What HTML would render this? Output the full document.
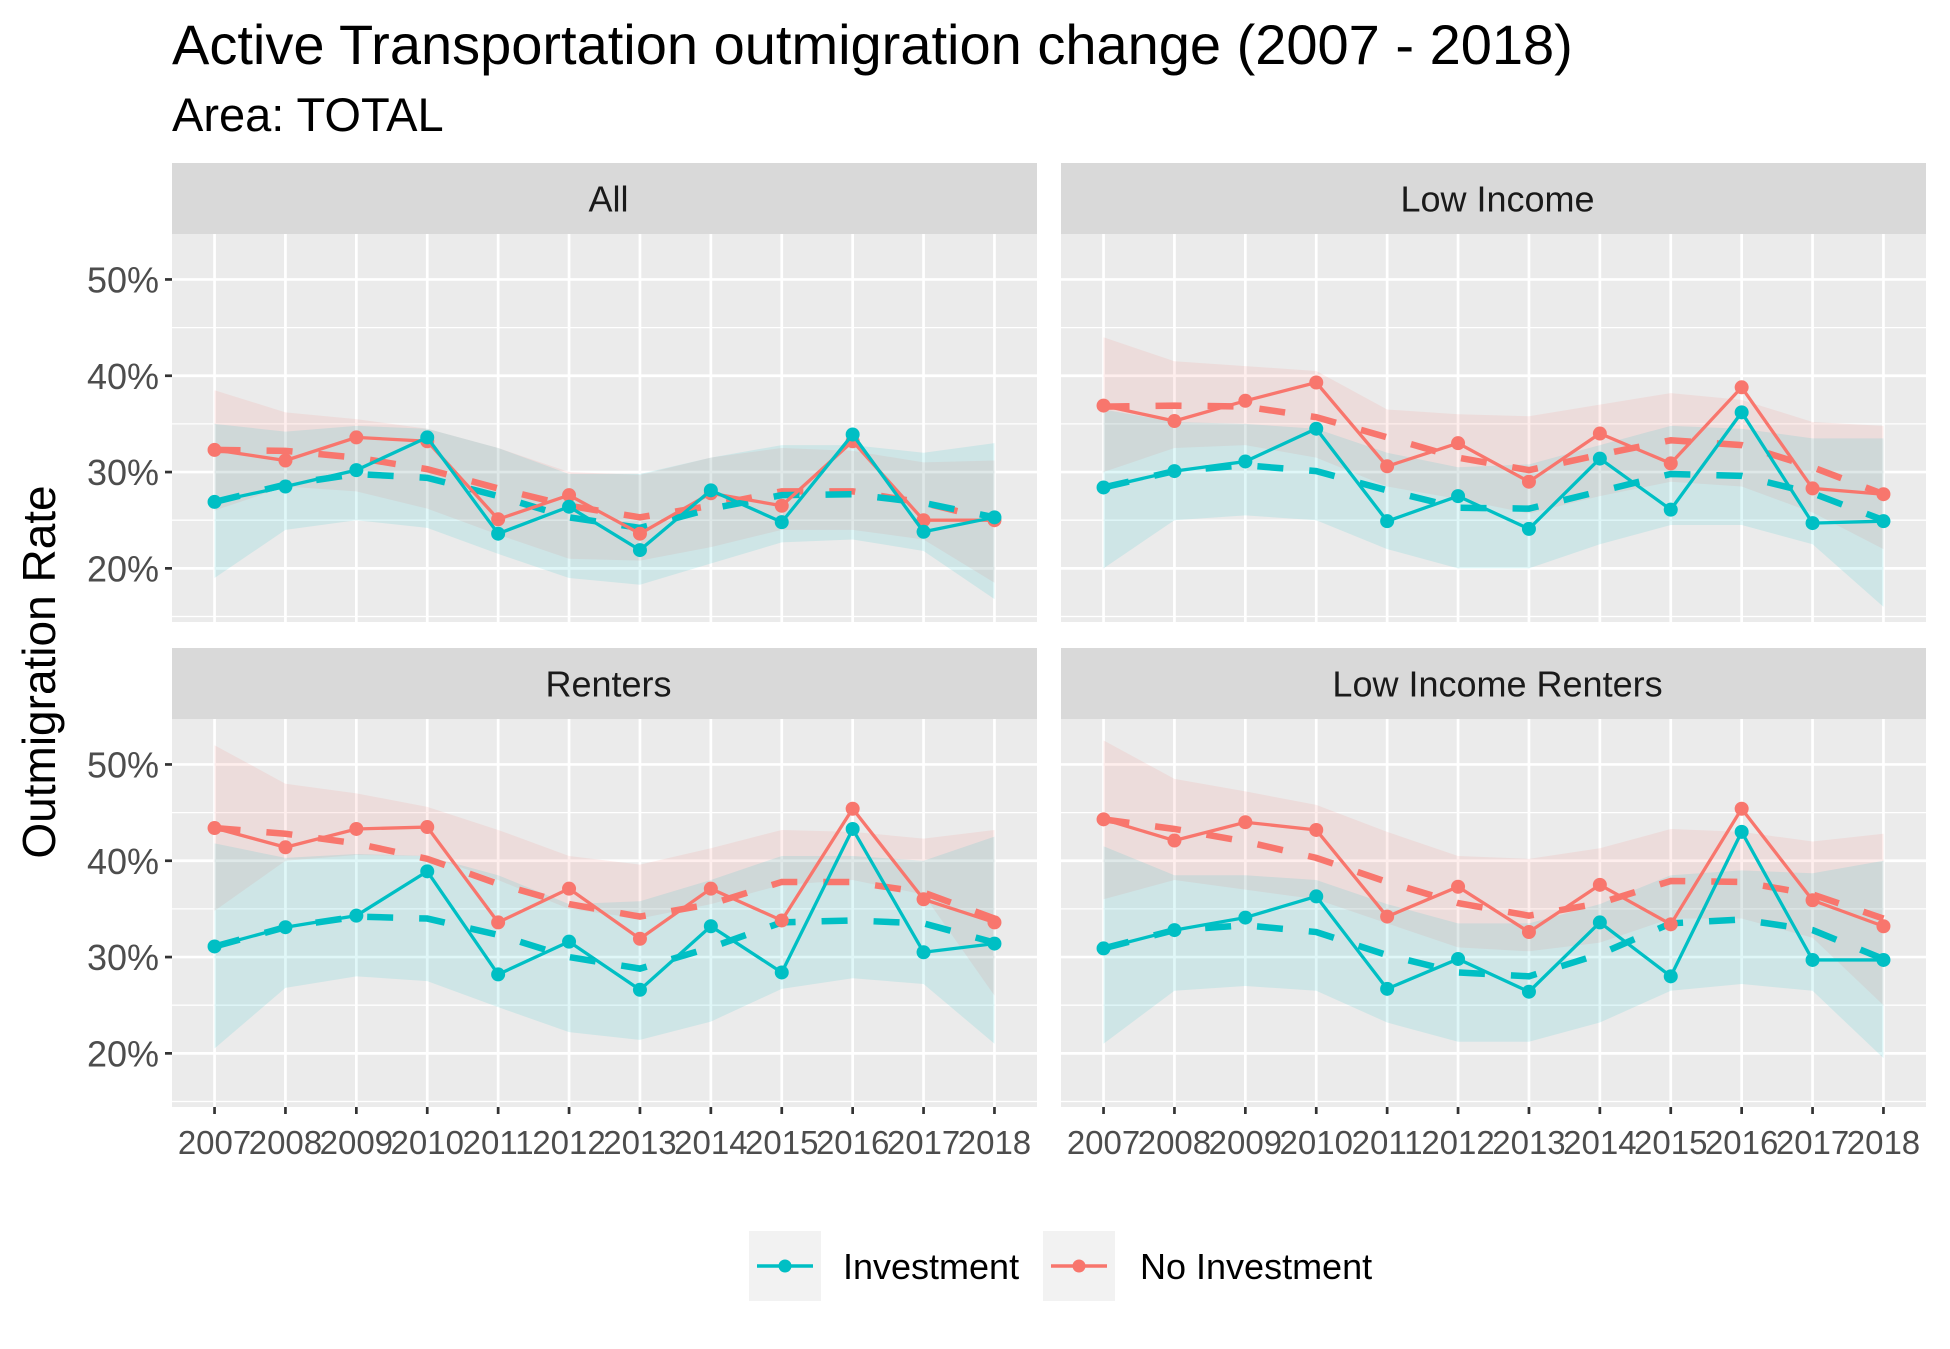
<!DOCTYPE html>
<html><head><meta charset="utf-8"><style>
html,body{margin:0;padding:0;background:#fff;}
svg{display:block;font-family:"Liberation Sans",Arial,sans-serif;}
</style></head><body>
<svg id="chart" width="1950" height="1349" viewBox="0 0 1950 1349" xmlns="http://www.w3.org/2000/svg">
<rect width="1950" height="1349" fill="#fff"/>
<text x="172" y="64" font-size="56" fill="#000">Active Transportation outmigration change (2007 - 2018)</text>
<text x="172" y="131" font-size="47" fill="#000">Area: TOTAL</text>
<text transform="translate(55,672) rotate(-90)" text-anchor="middle" font-size="46" fill="#000">Outmigration Rate</text>
<g id="panels"></g>
<g>
  <rect x="749" y="1231" width="72" height="70" fill="#F2F2F2"/>
  <line x1="757" y1="1266" x2="813" y2="1266" stroke="#00BFC4" stroke-width="3.5"/>
  <circle cx="785" cy="1266" r="6.5" fill="#00BFC4"/>
  <text x="843" y="1279" font-size="36" fill="#000">Investment</text>
  <rect x="1043" y="1231" width="72" height="70" fill="#F2F2F2"/>
  <line x1="1051" y1="1266" x2="1107" y2="1266" stroke="#F8766D" stroke-width="3.5"/>
  <circle cx="1079" cy="1266" r="6.5" fill="#F8766D"/>
  <text x="1140" y="1279" font-size="36" fill="#000">No Investment</text>
</g>
</svg>
<script>
const years = [2007,2008,2009,2010,2011,2012,2013,2014,2015,2016,2017,2018];
const yTicks = [20,30,40,50];
const yTickLabels = ["20%","30%","40%","50%"];
const panelNames = ["All","Low Income","Renters","Low Income Renters"];

// Observed values (%), per panel
const invAll = [26.9,28.5,30.2,33.6,23.6,26.4,21.9,28.1,24.8,33.9,23.8,25.3];
const noInvAll = [32.3,31.2,33.6,33.2,25.1,27.6,23.6,27.8,26.5,33.2,25.0,25.0];
const invLow = [28.4,30.1,31.1,34.5,24.9,27.5,24.1,31.4,26.1,36.2,24.7,24.9];
const noInvLow = [36.9,35.3,37.4,39.3,30.6,33.0,29.0,34.0,30.9,38.8,28.3,27.7];
const invRent = [31.1,33.1,34.3,38.9,28.2,31.6,26.6,33.2,28.4,43.3,30.5,31.4];
const noInvRent = [43.4,41.4,43.3,43.5,33.6,37.1,31.9,37.1,33.8,45.4,36.0,33.6];
const invLowRent = [30.9,32.8,34.1,36.3,26.7,29.8,26.4,33.6,28.0,43.0,29.7,29.7];
const noInvLowRent = [44.3,42.1,44.0,43.2,34.2,37.3,32.6,37.5,33.4,45.4,35.9,33.2];

// Smoothed trend (dashed)
const invAllFit = [26.9,28.7,29.8,29.4,27.5,25.3,24.2,26.2,27.6,27.7,26.8,25.3];
const noInvAllFit = [32.3,32.2,31.5,30.3,28.3,26.5,25.3,26.5,28.0,28.0,26.8,25.0];
const invLowFit = [28.4,30.1,30.7,30.1,28.1,26.3,26.2,28.0,29.8,29.6,27.8,25.0];
const noInvLowFit = [36.8,36.9,36.8,35.7,33.6,31.5,30.2,31.8,33.3,32.8,30.5,27.7];
const invRentFit = [31.1,33.1,34.2,34.0,32.3,30.0,28.8,31.0,33.6,33.8,33.5,31.5];
const noInvRentFit = [43.4,42.8,41.8,40.2,37.6,35.5,34.2,35.5,37.8,37.8,36.7,34.0];
const invLowRentFit = [30.9,32.8,33.3,32.6,30.2,28.4,28.0,30.3,33.5,33.9,32.8,29.8];
const noInvLowRentFit = [44.3,43.3,42.0,40.3,37.8,35.6,34.3,35.6,37.9,37.8,36.5,34.0];

// Confidence bands
const invAllHi = [35,34.2,34.8,34.5,32.5,29.8,29.8,31.5,32.8,32.8,32,33];
const invAllLo = [19,24,25,24.2,21.5,19,18.3,20.5,22.7,23,21.8,16.8];
const noInvAllHi = [38.5,36.2,35.5,34.5,32.5,30,29.7,31.5,32.5,32.2,31,31.2];
const noInvAllLo = [26,28.5,28,26.2,23.5,21,20.8,22.2,24,24,23,18.5];
const invLowHi = [36.5,35.2,35,34.5,32,30.5,30.8,32.8,34.8,34.5,33.5,33.5];
const invLowLo = [20,25,25.5,25,22,20,20,22.5,24.5,24.5,22.5,16];
const noInvLowHi = [44,41.5,41,40.5,36.5,36,35.8,37,38.2,37.5,35.2,34.8];
const noInvLowLo = [30,32.5,32.8,31.5,28.5,27.2,25.7,27.5,29,28.5,25.8,22];
const invRentHi = [41.8,40.3,40.7,40.5,38.5,35.5,35.8,38,40.5,40.5,40,42.5];
const invRentLo = [20.5,26.8,28,27.5,24.8,22.2,21.4,23.3,26.7,27.8,27.2,21];
const noInvRentHi = [52,48,47,45.6,43.2,40.5,39.6,41.3,43.2,43,42.3,43.2];
const noInvRentLo = [34.8,40,40.6,40.5,38,35,34,35.5,37.5,38,36.5,26];
const invLowRentHi = [41.5,38.5,38.5,38,35.5,33.5,33.5,35.5,38.5,39,38.7,40];
const invLowRentLo = [21,26.5,27,26.5,23.2,21.2,21.2,23.2,26.5,27.2,26.5,19.5];
const noInvLowRentHi = [52.5,48.5,47.2,45.8,43,40.5,40.2,41.3,43.3,43,42,42.8];
const noInvLowRentLo = [36,38,37,36,33.5,31,30.6,31.5,34,34,32,25];

const panelSeries = [
  {inv:invAll,no:noInvAll,invF:invAllFit,noF:noInvAllFit,iH:invAllHi,iL:invAllLo,nH:noInvAllHi,nL:noInvAllLo},
  {inv:invLow,no:noInvLow,invF:invLowFit,noF:noInvLowFit,iH:invLowHi,iL:invLowLo,nH:noInvLowHi,nL:noInvLowLo},
  {inv:invRent,no:noInvRent,invF:invRentFit,noF:noInvRentFit,iH:invRentHi,iL:invRentLo,nH:noInvRentHi,nL:noInvRentLo},
  {inv:invLowRent,no:noInvLowRent,invF:invLowRentFit,noF:noInvLowRentFit,iH:invLowRentHi,iL:invLowRentLo,nH:noInvLowRentHi,nL:noInvLowRentLo}
];

const NS = "http://www.w3.org/2000/svg";
const TEAL = "#00BFC4", RED = "#F8766D";
const PW = 865, PH = 388, SH = 71;
const YMAX = 54.72, YMIN = 14.43;
const panelPos = [[172,163],[1061,163],[172,648],[1061,648]];
const root = document.getElementById('panels');

function mk(tag, attrs, parent){
  const e = document.createElementNS(NS, tag);
  for (const k in attrs) e.setAttribute(k, attrs[k]);
  parent.appendChild(e);
  return e;
}

panelNames.forEach((name, pi) => {
  const [px, py] = panelPos[pi];
  const top = py + SH;
  const xs = i => px + (i + 0.6) / 12.2 * PW;
  const ys = v => top + (YMAX - v) / (YMAX - YMIN) * PH;
  const slug = name.toLowerCase().replace(/ /g,'-');
  const g = mk('g', {}, root);
  
  

  const strip = mk('rect', {x:px, y:py, width:PW, height:SH, fill:'#D9D9D9'}, g);
  
  
  const st = mk('text', {x:px+PW/2+4, y:py+SH/2+13, 'text-anchor':'middle', 'font-size':36, fill:'#1A1A1A'}, g);
  st.textContent = name;
  
  

  const bg = mk('rect', {x:px, y:top, width:PW, height:PH, fill:'#EBEBEB'}, g);
  
  

  [15,25,35,45].forEach(v => mk('line', {x1:px, x2:px+PW, y1:ys(v), y2:ys(v), stroke:'#fff', 'stroke-width':1.3}, g));
  yTicks.forEach(v => mk('line', {x1:px, x2:px+PW, y1:ys(v), y2:ys(v), stroke:'#fff', 'stroke-width':2.7}, g));
  years.forEach((y,i) => mk('line', {x1:xs(i), x2:xs(i), y1:top, y2:top+PH, stroke:'#fff', 'stroke-width':2.7}, g));

  const s = panelSeries[pi];
  function ribbon(hi, lo, col, nm){
    let d = hi.map((v,i)=>(i?'L':'M')+xs(i)+','+ys(v)).join('');
    for (let i = lo.length-1; i >= 0; i--) d += 'L'+xs(i)+','+ys(lo[i]);
    const p = mk('path', {d:d+'Z', fill:col, 'fill-opacity':0.12}, g);
    
    
  }
  ribbon(s.nH, s.nL, RED, 'ribbon-no-investment');
  ribbon(s.iH, s.iL, TEAL, 'ribbon-investment');

  function pathOf(arr){ return arr.map((v,i)=>(i?'L':'M')+xs(i)+','+ys(v)).join(''); }
  function dashed(arr, col, nm){
    const p = mk('path', {d:pathOf(arr), fill:'none', stroke:col, 'stroke-width':6.5, 'stroke-dasharray':'26 26'}, g);
    
    
  }
  dashed(s.noF, RED, 'trend-no-investment');
  dashed(s.invF, TEAL, 'trend-investment');

  function solid(arr, col, nm){
    const p = mk('path', {d:pathOf(arr), fill:'none', stroke:col, 'stroke-width':3.3}, g);
    
    
    arr.forEach((v,i) => {
      const c = mk('circle', {cx:xs(i), cy:ys(v), r:7, fill:col}, g);
      
      
    });
  }
  solid(s.no, RED, 'no-investment');
  solid(s.inv, TEAL, 'investment');

  if (pi % 2 === 0) {
    yTicks.forEach((v,i) => {
      mk('line', {x1:px-7, x2:px, y1:ys(v), y2:ys(v), stroke:'#333', 'stroke-width':2.7}, g);
      const t = mk('text', {x:px-13, y:ys(v)+13, 'text-anchor':'end', 'font-size':36, fill:'#4D4D4D'}, g);
      t.textContent = yTickLabels[i];
      
      
    });
  }
  if (pi >= 2) {
    years.forEach((y,i) => {
      mk('line', {x1:xs(i), x2:xs(i), y1:top+PH, y2:top+PH+7, stroke:'#333', 'stroke-width':2.7}, g);
      const t = mk('text', {x:xs(i), y:top+PH+47, 'text-anchor':'middle', 'font-size':33, fill:'#4D4D4D'}, g);
      t.textContent = y;
      
      
    });
  }
});
</script>
</body></html>
